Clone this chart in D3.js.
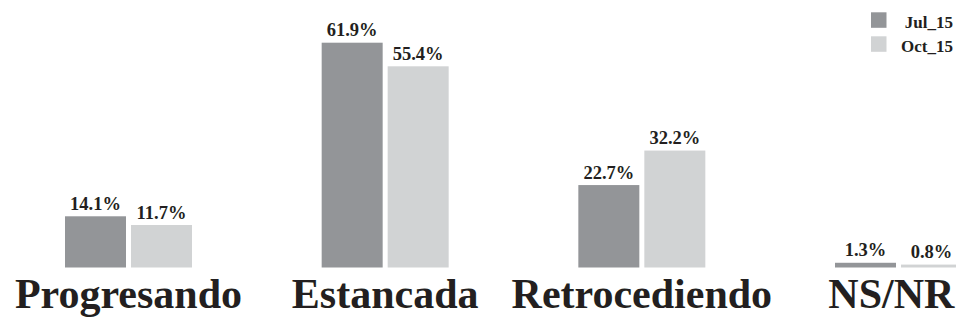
<!DOCTYPE html>
<html>
<head>
<meta charset="utf-8">
<script src="https://cdn.jsdelivr.net/npm/d3@7"></script>
<style>
html,body{margin:0;padding:0;background:#fff;overflow:hidden;}
svg{display:block;}
text{font-family:"Liberation Serif","Times New Roman",serif;font-weight:bold;fill:#231f20;}
</style>
</head>
<body>
<svg id="chart" width="956" height="319"></svg>
<script>
const categories = ["Progresando", "Estancada", "Retrocediendo", "NS/NR"];
const seriesNames = ["Jul_15", "Oct_15"];
const jul15 = [14.1, 61.9, 22.7, 1.3];
const oct15 = [11.7, 55.4, 32.2, 0.8];
const colors = ["#939598", "#d1d3d4"];

const W = 956, H = 319;
const svg = d3.select("#chart");

const baseY = 267.5;
const x0 = d3.scaleBand().domain(categories).range([65, 962]).paddingInner(129.67/256.67).paddingOuter(0);
const x1 = d3.scaleBand().domain(seriesNames).range([0, x0.bandwidth()]).paddingInner(5/66).paddingOuter(0);
const y = d3.scaleLinear().domain([0, 61.9]).range([baseY, 42.7]);
const color = d3.scaleOrdinal().domain(seriesNames).range(colors);

const data = categories.map((c, i) => ({
  cat: c,
  vals: [{s: seriesNames[0], v: jul15[i]}, {s: seriesNames[1], v: oct15[i]}]
}));

const g = svg.selectAll("g.grp").data(data).join("g")
  .attr("class", "grp")
  .attr("transform", d => `translate(${x0(d.cat)},0)`);

g.selectAll("rect").data(d => d.vals).join("rect")
  .attr("x", d => x1(d.s))
  .attr("y", d => y(d.v))
  .attr("width", x1.bandwidth())
  .attr("height", d => baseY - y(d.v))
  .attr("fill", d => color(d.s));

g.selectAll("text.val").data(d => d.vals).join("text")
  .attr("class", "val")
  .attr("x", d => x1(d.s) + x1.bandwidth() / 2)
  .attr("y", d => y(d.v) - 6.5)
  .attr("text-anchor", "middle")
  .style("font-size", "18.5px")
  .text(d => d.v.toFixed(1) + "%");

const cats = g.append("text")
  .attr("class", "cat")
  .attr("x", x0.bandwidth() / 2)
  .attr("y", 308)
  .attr("text-anchor", "middle")
  .style("font-size", "42px")
  .text(d => d.cat);

// keep category labels inside the picture
cats.each(function(d) {
  const bb = this.getBBox();
  const absRight = x0(d.cat) + bb.x + bb.width;
  if (absRight > W - 1) {
    d3.select(this).attr("x", x0.bandwidth() / 2 - (absRight - (W - 1)));
  }
});

// legend
const lg = svg.append("g").selectAll("g").data(seriesNames).join("g")
  .attr("transform", (d, i) => `translate(0,${i * 24})`);
lg.append("rect").attr("x", 871).attr("y", 12.3).attr("width", 15.5).attr("height", 15.5)
  .attr("fill", d => color(d));
lg.append("text").attr("x", 953).attr("y", 27.5).attr("text-anchor", "end")
  .style("font-size", "17px").text(d => d);
</script>
</body>
</html>
